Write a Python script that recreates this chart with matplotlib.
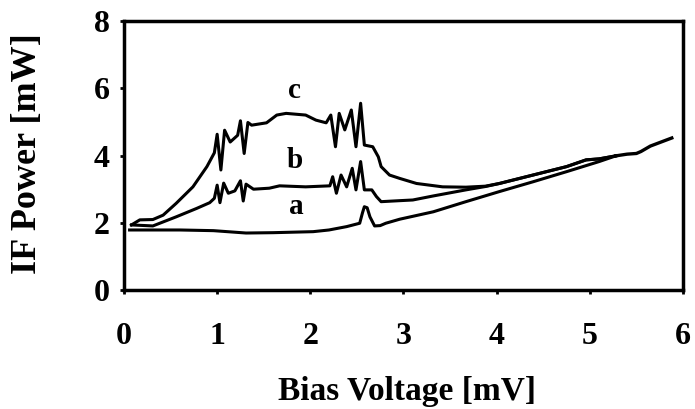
import matplotlib
matplotlib.use("Agg")
import matplotlib.pyplot as plt

# curve a (lowest)
a_x = [0.06, 0.3, 0.6, 0.96, 1.31, 1.6, 2.03, 2.2, 2.39, 2.53, 2.56, 2.58, 2.61, 2.64, 2.69, 2.75, 2.81,
       2.96, 3.32, 3.67, 4.03, 4.39, 4.75, 5.1, 5.28]
a_y = [1.79, 1.79, 1.79, 1.77, 1.70, 1.71, 1.74, 1.79, 1.89, 1.99, 2.3, 2.48, 2.45, 2.18, 1.91, 1.92, 1.99,
       2.11, 2.33, 2.63, 2.93, 3.22, 3.52, 3.82, 3.99]

# curve b (middle)
b_x = [0.08, 0.31, 0.56, 0.78, 0.92, 0.97, 1.0, 1.03, 1.07, 1.12, 1.19, 1.25, 1.28, 1.31, 1.39, 1.56,
       1.67, 1.95, 2.21, 2.24, 2.28, 2.33, 2.39, 2.45, 2.49, 2.54, 2.58, 2.66, 2.71, 2.76, 2.96, 3.1,
       3.32, 3.67, 3.88, 4.03, 4.39, 4.75, 4.96, 5.1, 5.28]
b_y = [1.94, 1.91, 2.18, 2.43, 2.6, 2.73, 3.12, 2.6, 3.18, 2.88, 2.95, 3.25, 2.65, 3.15, 3.0, 3.03,
       3.1, 3.07, 3.1, 3.37, 2.88, 3.42, 3.07, 3.62, 2.98, 3.82, 2.98, 2.98, 2.78, 2.63, 2.66, 2.68,
       2.8, 2.98, 3.08, 3.17, 3.42, 3.67, 3.87, 3.9, 3.99]

# curve c (top)
c_x = [0.08, 0.17, 0.31, 0.42, 0.56, 0.74, 0.89, 0.97, 1.0, 1.04, 1.08, 1.14, 1.22, 1.25, 1.29, 1.33,
       1.37, 1.53, 1.64, 1.74, 1.95, 2.06, 2.17, 2.22, 2.27, 2.31, 2.37, 2.44, 2.49, 2.54, 2.58, 2.67,
       2.73, 2.76, 2.85, 2.96, 3.14, 3.42, 3.67, 3.88, 4.03, 4.39, 4.75, 4.96, 5.1, 5.28]
c_y = [1.94, 2.09, 2.1, 2.23, 2.58, 3.07, 3.67, 4.08, 4.63, 3.57, 4.75, 4.4, 4.6, 5.03, 4.06, 4.98,
       4.9, 4.97, 5.2, 5.25, 5.2, 5.05, 4.97, 5.2, 4.26, 5.25, 4.76, 5.35, 4.26, 5.55, 4.31, 4.26,
       3.96, 3.67, 3.42, 3.32, 3.17, 3.07, 3.06, 3.09, 3.17, 3.42, 3.67, 3.87, 3.9, 3.99]

# common tail where all three curves overlap
tail_x = [5.28, 5.4, 5.5, 5.55, 5.65, 5.88]
tail_y = [3.99, 4.04, 4.06, 4.12, 4.28, 4.52]

curve_labels = ["a", "b", "c"]
label_x = [1.85, 1.83, 1.83]
label_y = [2.5, 3.85, 5.92]

serif = "Liberation Serif"

fig = plt.figure(figsize=(6.95, 4.09), dpi=100)
ax = fig.add_axes([0.1784, 0.2902, 0.8043, 0.6592])

for xs, ys in [(a_x, a_y), (b_x, b_y), (c_x, c_y)]:
    ax.plot(xs, ys, color="black", lw=2.2, solid_joinstyle="round")
ax.plot(tail_x, tail_y, color="black", lw=2.4)

for lab, lx, ly in zip(curve_labels, label_x, label_y):
    ax.text(lx, ly, lab, ha="center", va="center", fontsize=21,
            fontweight="bold", family=serif)

ax.set_xlim(0, 6)
ax.set_ylim(0, 8)
ax.set_xticks(range(0, 7))
ax.set_yticks(range(0, 9, 2))
for s in ax.spines.values():
    s.set_linewidth(2.5)
ax.tick_params(direction="out", length=3, width=2)
ax.tick_params(axis="x", pad=20)
ax.tick_params(axis="y", pad=7)
for t in ax.get_xticklabels() + ax.get_yticklabels():
    t.set_family(serif)
    t.set_fontweight("bold")
    t.set_fontsize(23)

# axis titles placed directly so the bottom one sits where the reference has it
fig.text(407 / 695, 1 - 400 / 409, "Bias Voltage [mV]", ha="center", va="baseline",
         fontsize=24, fontweight="bold", family=serif)
fig.text(28 / 695, 1 - 154 / 409, "IF Power [mW]", ha="center", va="center", rotation=90,
         fontsize=26, fontweight="bold", family=serif)

fig.savefig("out.png", dpi=100)
